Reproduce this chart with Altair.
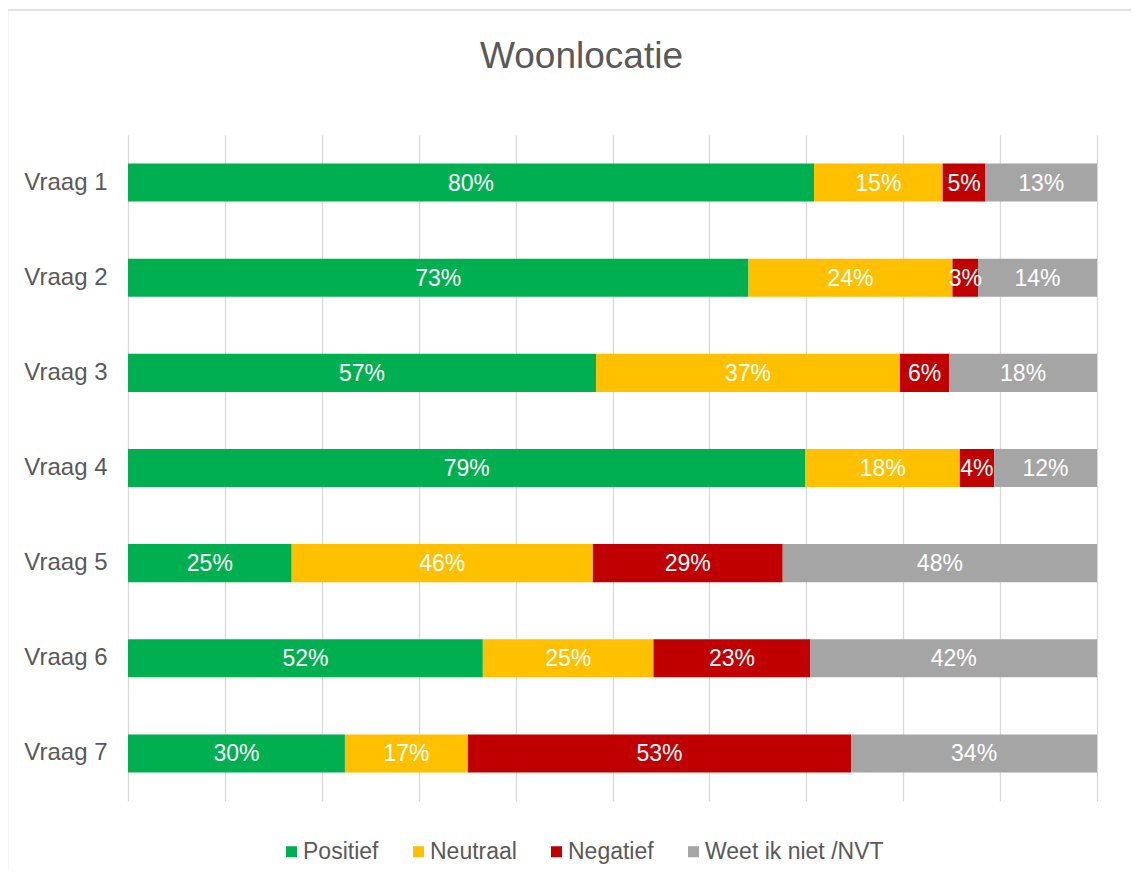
import altair as alt
import pandas as pd

vragen = ["Vraag 1", "Vraag 2", "Vraag 3", "Vraag 4", "Vraag 5", "Vraag 6", "Vraag 7"]
categories = ["Positief", "Neutraal", "Negatief", "Weet ik niet /NVT"]
colors = ["#00B050", "#FFC000", "#C00000", "#A5A5A5"]

positief = [80, 73, 57, 79, 25, 52, 30]
neutraal = [15, 24, 37, 18, 46, 25, 17]
negatief = [5, 3, 6, 4, 29, 23, 53]
weet_niet = [13, 14, 18, 12, 48, 42, 34]

series = [positief, neutraal, negatief, weet_niet]
rows = []
for ci, (cat, vals) in enumerate(zip(categories, series)):
    for vi, v in enumerate(vals):
        rows.append({"vraag": vragen[vi], "cat": cat, "order": ci, "value": v,
                     "label": f"{v}%"})
df = pd.DataFrame(rows)

W, H = 969, 666
font = "Liberation Sans"

base = alt.Chart(df).transform_stack(
    stack="value", groupby=["vraag"], as_=["v0", "v1"], offset="normalize",
    sort=[alt.SortField("order", order="ascending")]
).transform_calculate(mid="(datum.v0 + datum.v1) / 2")

y_enc = alt.Y("vraag:N", sort=vragen, title=None,
              scale=alt.Scale(paddingInner=0.6, paddingOuter=0.3),
              axis=alt.Axis(ticks=False, domain=False, grid=False, labelFontSize=24,
                            labelColor="#595959", labelFont=font, labelPadding=21))

bars = base.mark_bar().encode(
    x=alt.X("v0:Q", scale=alt.Scale(domain=[0, 1], nice=False), title=None,
            axis=alt.Axis(values=[i / 10 for i in range(11)], labels=False,
                          ticks=False, domain=False, grid=True,
                          gridColor="#D9D9D9", gridWidth=1.3)),
    x2="v1:Q",
    y=y_enc,
    color=alt.Color("cat:N", sort=categories, title=None,
                    scale=alt.Scale(domain=categories, range=colors),
                    legend=alt.Legend(orient="none", direction="horizontal",
                                      legendX=152, legendY=705,
                                      symbolType="square", symbolSize=121,
                                      symbolStrokeWidth=0,
                                      labelFontSize=23, labelColor="#595959",
                                      labelFont=font, labelOffset=0,
                                      labelLimit=0, columnPadding=28)),
)

texts = base.mark_text(color="white", fontSize=23, font=font, baseline="middle",
                       dy=1).encode(
    x=alt.X("mid:Q"),
    y=alt.Y("vraag:N", sort=vragen),
    text="label:N",
)

frame = alt.Chart(pd.DataFrame({"a": [0]})).mark_rect(
    fill=None, stroke="#D9D9D9", strokeWidth=1.5
).encode(x=alt.value(-120.5), x2=alt.value(W + 200), y=alt.value(-125),
         y2=alt.value(H + 200))

chart = alt.layer(frame, bars, texts).properties(
    width=W, height=H,
    background="white",
    title=alt.Title("Woonlocatie", fontSize=37, font=font, color="#595959",
                    fontWeight="normal", anchor="middle", baseline="alphabetic",
                    offset=-96, dx=-31),
    autosize=alt.AutoSizeParams(type="none"),
    padding={"left": 120, "top": 127, "right": 34, "bottom": 70},
).configure_view(stroke="transparent", strokeWidth=0)

chart.save("out.html", embed_options={"renderer": "svg", "actions": False})
